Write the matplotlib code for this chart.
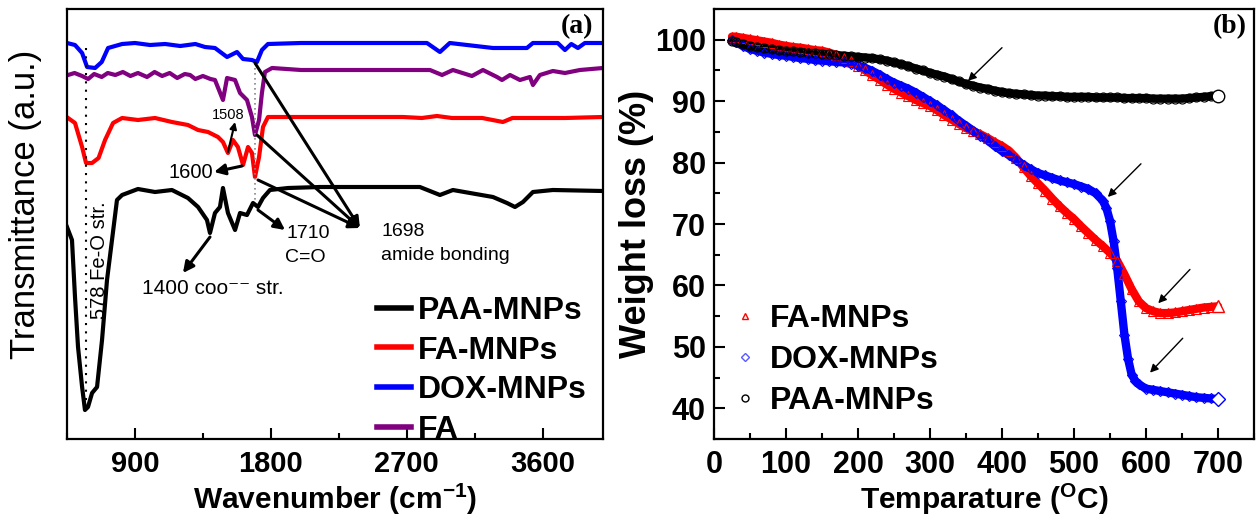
import matplotlib
matplotlib.use("Agg")
import matplotlib.pyplot as plt
from matplotlib.lines import Line2D
from matplotlib.ticker import MultipleLocator

plt.rcParams['font.family'] = ['Liberation Sans', 'DejaVu Sans']
plt.rcParams['mathtext.fontset'] = 'custom'
plt.rcParams['mathtext.default'] = 'regular'

# ---- FTIR spectra (wavenumber cm-1, transmittance a.u.) ----
wn_dox = [450, 503, 550, 583, 636, 680, 722, 815, 900, 1000, 1100, 1200, 1251, 1300,
          1364, 1430, 1510, 1576, 1616, 1675, 1708, 1741, 1781, 2000, 2500, 2834,
          2920, 2985, 3271, 3400, 3496, 3536, 3700, 3748, 3790, 3834, 3880, 4000]
tr_dox = [396, 394, 386, 372, 371, 377, 391, 395, 396, 394, 395, 393, 394, 395,
          392, 391, 382, 387, 380, 379, 377, 389, 395, 396, 396, 396,
          387, 396, 391, 391, 391, 396, 396, 389, 395, 391, 396, 396]

wn_fa = [457, 500, 550, 590, 630, 680, 720, 770, 820, 870, 920, 980, 1030, 1080,
         1130, 1180, 1230, 1265, 1300, 1350, 1400, 1430, 1483, 1510, 1563, 1596,
         1642, 1675, 1695, 1722, 1741, 1761, 1808, 2000, 2500, 2854, 2934, 3006,
         3132, 3205, 3298, 3331, 3384, 3450, 3516, 3536, 3582, 3668, 3748, 3847, 4000]
tr_fa = [364, 366, 363, 360, 365, 362, 366, 364, 367, 363, 366, 362, 367, 363,
         366, 361, 365, 364, 360, 363, 360, 359, 339, 361, 359, 346,
         339, 322, 304, 319, 346, 367, 371, 369, 369, 369, 364, 369,
         363, 369, 362, 359, 364, 359, 362, 354, 364, 368, 366, 369, 371]

wn_famnp = [457, 503, 550, 576, 616, 659, 702, 755, 815, 920, 1033, 1145, 1251, 1318,
            1384, 1450, 1483, 1516, 1549, 1582, 1616, 1649, 1675, 1695, 1722, 1748,
            1781, 2000, 2675, 2800, 2900, 3000, 3200, 3337, 3400, 3748, 4000]
tr_famnp = [321, 316, 292, 276, 276, 281, 299, 316, 321, 319, 321, 317, 314, 309,
            307, 302, 297, 286, 299, 292, 274, 292, 286, 262, 282, 312,
            322, 322, 322, 321, 323, 321, 321, 317, 321, 321, 322]

wn_paa = [450, 483, 503, 523, 550, 569, 589, 616, 649, 682, 715, 748, 781, 815,
          920, 1033, 1145, 1251, 1318, 1377, 1397, 1430, 1463, 1483, 1516, 1563,
          1596, 1642, 1682, 1715, 1748, 1794, 1914, 2125, 2787, 2920, 3006, 3119,
          3271, 3364, 3417, 3470, 3536, 3668, 4000]
tr_paa = [212, 199, 142, 92, 52, 29, 32, 46, 52, 99, 159, 199, 239, 244,
          250, 247, 249, 241, 232, 219, 206, 226, 232, 251, 226, 209,
          226, 224, 236, 232, 241, 249, 251, 252, 252, 244, 249, 246,
          242, 236, 232, 237, 247, 249, 248]

# ---- TGA curves (temperature C, weight %) ----
temp_paa = [25, 30, 40, 50, 60, 70, 80, 90, 100, 110, 120, 130, 140, 150, 160, 170,
            180, 190, 200, 210, 220, 230, 240, 250, 260, 270, 280, 290, 300, 310,
            320, 330, 340, 350, 360, 370, 380, 390, 400, 410, 420, 430, 440, 450,
            460, 470, 480, 490, 500, 510, 520, 530, 540, 550, 560, 570, 580, 590,
            600, 610, 620, 630, 640, 650, 660, 670, 680, 690, 700]
wt_paa = [99.8, 99.6, 99.3, 99.0, 98.8, 98.6, 98.5, 98.3, 98.2, 98.1, 98.0, 97.9,
          97.8, 97.7, 97.6, 97.5, 97.4, 97.3, 97.2, 97.1, 97.0, 96.8, 96.6, 96.3,
          96.0, 95.7, 95.3, 95.0, 94.6, 94.3, 94.0, 93.6, 93.2, 92.8, 92.5, 92.2,
          92.0, 91.7, 91.5, 91.3, 91.2, 91.1, 91.0, 90.9, 90.9, 90.8, 90.8, 90.7,
          90.7, 90.7, 90.7, 90.6, 90.6, 90.6, 90.6, 90.5, 90.5, 90.5, 90.5, 90.4,
          90.4, 90.4, 90.4, 90.4, 90.5, 90.6, 90.7, 90.8, 90.9]

temp_fa = [25, 30, 40, 50, 60, 70, 80, 90, 100, 110, 120, 130, 140, 150, 160, 170,
           180, 190, 200, 210, 220, 230, 240, 250, 260, 270, 280, 290, 300, 310,
           320, 330, 340, 350, 360, 370, 380, 390, 400, 410, 420, 430, 440, 450,
           460, 470, 480, 490, 500, 510, 520, 530, 540, 550, 560, 570, 580, 590,
           600, 610, 620, 630, 640, 650, 660, 670, 680, 690, 700]
wt_fa = [100.5, 100.5, 100.3, 100.1, 99.9, 99.7, 99.5, 99.2, 99.0, 98.8, 98.7, 98.5,
         98.3, 98.2, 97.9, 97.5, 97.1, 96.5, 95.8, 95.0, 94.2, 93.5, 92.7, 92.0,
         91.4, 90.8, 90.2, 89.7, 89.2, 88.5, 87.7, 87.0, 86.3, 85.6, 85.1, 84.6,
         84.0, 83.3, 82.7, 81.9, 80.7, 79.2, 77.8, 76.6, 75.4, 74.1, 72.9, 71.8,
         70.8, 69.6, 68.5, 67.4, 66.4, 65.3, 64.0, 61.8, 59.4, 57.4, 56.3, 55.8,
         55.5, 55.5, 55.6, 55.8, 56.0, 56.2, 56.4, 56.5, 56.6]

temp_dox = [25, 30, 40, 50, 60, 70, 80, 90, 100, 110, 120, 130, 140, 150, 160, 170,
            180, 190, 200, 210, 220, 230, 240, 250, 260, 270, 280, 290, 300, 310,
            320, 330, 340, 350, 360, 370, 380, 390, 400, 410, 420, 430, 440, 450,
            460, 470, 480, 490, 500, 510, 520, 530, 540, 545, 550, 555, 560, 565,
            570, 575, 580, 585, 590, 600, 610, 620, 630, 640, 650, 660, 670, 680,
            690, 700]
wt_dox = [100.0, 99.6, 99.0, 98.5, 98.2, 97.9, 97.7, 97.5, 97.4, 97.2, 97.0, 96.9,
          96.7, 96.6, 96.5, 96.4, 96.3, 96.1, 95.8, 95.4, 94.9, 94.3, 93.6, 93.0,
          92.5, 92.0, 91.4, 90.7, 90.0, 89.3, 88.5, 87.7, 86.8, 86.0, 85.2, 84.4,
          83.6, 82.7, 81.9, 81.2, 80.4, 79.6, 78.9, 78.3, 77.9, 77.5, 77.1, 76.8,
          76.5, 76.1, 75.7, 75.0, 73.8, 72.6, 70.5, 67.2, 62.8, 57.4, 52.0, 48.1,
          45.5, 44.5, 43.9, 43.2, 43.0, 42.8, 42.6, 42.4, 42.2, 42.0, 41.8, 41.7,
          41.6, 41.5]

fig = plt.figure(figsize=(12.58, 5.2), dpi=100)

# ================= (a) FTIR =================
ax1 = fig.add_axes([67 / 1258, 81 / 520, 536 / 1258, 430 / 520])
lw = 3.0
ax1.plot(wn_paa, tr_paa, color='black', lw=lw)
ax1.plot(wn_famnp, tr_famnp, color='#ff0000', lw=lw)
ax1.plot(wn_dox, tr_dox, color='#0000ff', lw=lw)
ax1.plot(wn_fa, tr_fa, color='#800080', lw=lw)

# guide lines at the Fe-O and amide bands
ax1.plot([578, 578], [391, 29], ls=(0, (1, 3)), color='black', lw=1.5)
ax1.plot([1698, 1698], [376, 239], ls=(0, (1, 2)), color='#888888', lw=1.2)

ax1.set_xlim(450, 4000)
ax1.set_ylim(0, 430)
ax1.xaxis.set_major_locator(MultipleLocator(900))
ax1.xaxis.set_minor_locator(MultipleLocator(450))
ax1.set_yticks([])
ax1.tick_params(axis='x', which='both', direction='in', top=False, width=1.5)
ax1.tick_params(axis='x', which='major', length=8, labelsize=21, pad=8)
ax1.tick_params(axis='x', which='minor', length=4)
for lab in ax1.get_xticklabels():
    lab.set_fontweight('bold')
for sp in ax1.spines.values():
    sp.set_linewidth(1.6)

ax1.set_xlabel(r'Wavenumber (cm$^{-1}$)', fontsize=21.5, fontweight='bold')
ax1.xaxis.set_label_coords(0.5, -0.1)
ax1.set_ylabel('Transmittance (a.u.)', fontsize=25)
ax1.yaxis.set_label_coords(-0.047, 0.545)

arrow = dict(arrowstyle='-|>', color='black', lw=2.2, mutation_scale=16,
             shrinkA=0, shrinkB=0)
for start in [(1695, 376), (1708, 304), (1715, 259)]:
    ax1.annotate('', xy=(2390, 211), xytext=start, arrowprops=arrow)
ax1.annotate('', xy=(1894, 209), xytext=(1715, 229), arrowprops=arrow)
ax1.annotate('', xy=(1218, 166), xytext=(1397, 202), arrowprops=arrow)
ax1.annotate('', xy=(1424, 267), xytext=(1609, 273), arrowprops=arrow)
ax1.annotate('', xy=(1563, 317), xytext=(1516, 287),
             arrowprops=dict(arrow, lw=1.5, mutation_scale=10))

ax1.text(2530, 207, '1698', fontsize=14, va='center')
ax1.text(2530, 183, 'amide bonding', fontsize=14, va='center')
ax1.text(1907, 206, '1710', fontsize=14, va='center')
ax1.text(1894, 181, 'C=O', fontsize=14, va='center')
ax1.text(947, 151, '1400 coo\u207b\u207b str.', fontsize=15, va='center')
ax1.text(1417, 267, '1600', fontsize=14.5, va='center', ha='right')
ax1.text(1516, 324, '1508', fontsize=10.5, va='center', ha='center')
ax1.text(668, 179, '578 Fe-O str.', fontsize=14.5, rotation=90,
         va='center', ha='center')
ax1.text(0.952, 0.958, '(a)', transform=ax1.transAxes, fontsize=20,
         fontweight='bold', family='Liberation Serif', ha='center', va='center')

handles = [Line2D([], [], color=c, lw=4) for c in ['black', '#ff0000', '#0000ff', '#800080']]
ax1.legend(handles, ['PAA-MNPs', 'FA-MNPs', 'DOX-MNPs', 'FA'],
           loc='upper left', bbox_to_anchor=(377 / 1258, 224 / 520),
           bbox_transform=fig.transFigure, frameon=False, borderpad=0,
           borderaxespad=0, handlelength=1.05, handletextpad=0.22,
           labelspacing=0.3, prop={'size': 23, 'weight': 'bold'})

# ================= (b) TGA =================
ax2 = fig.add_axes([714 / 1258, 81 / 520, 540 / 1258, 430 / 520])
series = [
    (temp_fa, wt_fa, '#ff0000', '^', 'FA-MNPs'),
    (temp_dox, wt_dox, '#0000ff', 'D', 'DOX-MNPs'),
    (temp_paa, wt_paa, 'black', 'o', 'PAA-MNPs'),
]
leg_handles = []
for t, w, c, m, name in series:
    ax2.plot(t, w, color=c, lw=6, solid_capstyle='round', zorder=2)
    ax2.plot(t, w, ls='none', marker=m, ms=6.5 if m != 'D' else 5.5, mfc='none',
             mec=c, mew=0.8, zorder=3)
    ax2.plot(t, w, ls='none', marker=m, ms=9 if m != 'D' else 7.5, mfc='white',
             mec=c, mew=1.0, markevery=[-1], zorder=4)
    leg_handles.append(Line2D([], [], ls='none', marker=m, ms=5 if m != 'D' else 4.5,
                              mfc='white', mec=c if m != 'D' else '#5a5aff', mew=1.0))

ax2.set_xlim(0, 750)
ax2.set_ylim(35, 105)
ax2.xaxis.set_major_locator(MultipleLocator(100))
ax2.xaxis.set_minor_locator(MultipleLocator(50))
ax2.yaxis.set_major_locator(MultipleLocator(10))
ax2.yaxis.set_minor_locator(MultipleLocator(5))
ax2.set_yticks(range(40, 101, 10))
ax2.tick_params(which='both', direction='in', top=False, right=False, width=1.5)
ax2.tick_params(which='major', length=8, labelsize=22)
ax2.tick_params(axis='x', which='major', pad=8)
ax2.tick_params(axis='y', which='major', pad=6)
ax2.tick_params(which='minor', length=4)
for lab in ax2.get_xticklabels() + ax2.get_yticklabels():
    lab.set_fontweight('bold')
for sp in ax2.spines.values():
    sp.set_linewidth(1.6)

ax2.set_xlabel(r'Temparature ($^{O}$C)', fontsize=21.5, fontweight='bold')
ax2.xaxis.set_label_coords(0.5, -0.1)
ax2.set_ylabel('Weight loss (%)', fontsize=26, fontweight='bold')
ax2.yaxis.set_label_coords(-0.112, 0.5)

thin = dict(arrowstyle='-|>', color='black', lw=1.0, mutation_scale=12,
            shrinkA=0, shrinkB=0)
ax2.annotate('', xy=(352.8, 93.3), xytext=(400, 98.7), arrowprops=thin)
ax2.annotate('', xy=(547, 74.4), xytext=(593, 79.8), arrowprops=thin)
ax2.annotate('', xy=(617, 57.1), xytext=(661, 62.6), arrowprops=thin)
ax2.annotate('', xy=(605.6, 45.8), xytext=(651, 51.4), arrowprops=thin)

ax2.text(0.955, 0.958, '(b)', transform=ax2.transAxes, fontsize=20,
         fontweight='bold', family='Liberation Serif', ha='center', va='center')

ax2.legend(leg_handles, [s[4] for s in series],
           loc='upper left', bbox_to_anchor=(732 / 1258, 216 / 520),
           bbox_transform=fig.transFigure, frameon=False, borderpad=0,
           borderaxespad=0, handlelength=0.8, handletextpad=0.39,
           labelspacing=0.34, prop={'size': 23, 'weight': 'bold'})

fig.savefig('out.png', dpi=100)
